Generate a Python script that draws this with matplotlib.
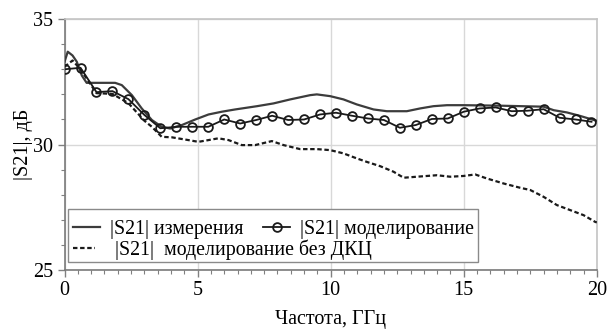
import matplotlib
matplotlib.use("Agg")
import matplotlib.pyplot as plt
from matplotlib.patches import Rectangle
from matplotlib.ticker import MultipleLocator

plt.rcParams['font.family'] = ['Liberation Serif', 'DejaVu Serif']

# |S21| measured
meas_f = [0.0, 0.12, 0.3, 0.46, 0.65, 0.83, 1.9, 2.15, 2.53, 2.9, 3.28, 3.65, 3.97,
          4.41, 4.91, 5.41, 5.91, 6.41, 7.23, 7.85, 8.48, 9.23, 9.48, 9.98, 10.48,
          10.98, 11.61, 12.11, 12.86, 13.36, 13.86, 14.37, 14.99, 16.37, 18.0,
          18.38, 18.88, 19.38, 19.82, 20.0]
meas_db = [33.3, 33.7, 33.55, 33.3, 32.75, 32.46, 32.46, 32.37, 31.97, 31.44, 30.98,
           30.71, 30.64, 30.78, 31.0, 31.2, 31.31, 31.4, 31.53, 31.64, 31.8, 31.97,
           32.0, 31.93, 31.8, 31.6, 31.4, 31.33, 31.33, 31.44, 31.53, 31.57, 31.57,
           31.55, 31.51, 31.37, 31.28, 31.14, 31.0, 30.95]

# |S21| simulation (markers)
sim_f = [0.0, 0.6, 1.2, 1.8, 2.4, 3.0, 3.6, 4.2, 4.8, 5.4, 6.0, 6.6, 7.2, 7.8, 8.4,
         9.0, 9.6, 10.2, 10.8, 11.4, 12.0, 12.6, 13.2, 13.8, 14.4, 15.0, 15.6,
         16.2, 16.8, 17.4, 18.0, 18.6, 19.2, 19.8]
sim_db = [33.0, 33.06, 32.09, 32.13, 31.81, 31.18, 30.65, 30.71, 30.71, 30.71, 31.0,
          30.84, 30.98, 31.15, 30.98, 31.0, 31.2, 31.27, 31.15, 31.04, 30.98, 30.67,
          30.78, 31.02, 31.04, 31.31, 31.44, 31.48, 31.33, 31.35, 31.41, 31.07,
          31.0, 30.91]

# |S21| simulation without DKC
nodkc_f = [0.0, 0.3, 0.6, 1.2, 1.8, 2.4, 3.0, 3.28, 3.65, 4.03, 4.65, 5.03, 5.41,
           5.78, 6.16, 6.66, 7.16, 7.79, 8.23, 8.85, 9.48, 9.98, 10.48, 10.98,
           11.36, 11.86, 12.36, 12.74, 13.24, 13.99, 14.49, 14.99, 15.43, 15.87,
           16.5, 17.12, 17.5, 18.0, 18.5, 19.0, 19.5, 19.94, 20.0]
nodkc_db = [33.1, 33.35, 33.0, 32.05, 32.02, 31.65, 30.95, 30.71, 30.31, 30.29,
            30.18, 30.11, 30.18, 30.25, 30.18, 29.98, 29.98, 30.14, 29.98, 29.82,
            29.82, 29.78, 29.65, 29.45, 29.31, 29.14, 28.92, 28.68, 28.72, 28.78,
            28.72, 28.75, 28.81, 28.65, 28.45, 28.28, 28.19, 27.92, 27.59, 27.39,
            27.19, 26.92, 26.9]

fig = plt.figure(figsize=(6.09, 3.29), dpi=100)
ax = fig.add_axes([0.106, 0.179, 0.874, 0.763])

l_meas, = ax.plot(meas_f, meas_db, color='#3c3c3c', lw=1.6, zorder=3)
l_nodkc, = ax.plot(nodkc_f, nodkc_db, color='#1a1a1a', lw=1.6, ls=(0, (2, 1.2)), zorder=3)
l_sim, = ax.plot(sim_f, sim_db, color='#1a1a1a', lw=1.3, marker='o', ms=6.3,
                 mfc='none', mec='#1a1a1a', mew=1.3, zorder=4)

ax.set_xlim(0, 20)
ax.set_ylim(25, 35)
ax.xaxis.set_major_locator(MultipleLocator(5))
ax.xaxis.set_minor_locator(MultipleLocator(0.5))
ax.yaxis.set_major_locator(MultipleLocator(5))
ax.yaxis.set_minor_locator(MultipleLocator(1))
ax.tick_params(which='major', direction='out', length=5, width=1, color='#808080',
               labelsize=14.5, pad=3)
ax.tick_params(which='minor', direction='out', length=3, width=0.8, color='#808080')
ax.grid(True, which='major', color='#d8d8d8', lw=1)
ax.set_axisbelow(True)
for s in ['left', 'bottom']:
    ax.spines[s].set_color('#7a7a7a')
    ax.spines[s].set_linewidth(1.2)
for s in ['top', 'right']:
    ax.spines[s].set_color('#c4c4c4')
    ax.spines[s].set_linewidth(1.2)

ax.set_xlabel('Частота, ГГц', fontsize=14.5, labelpad=7)
ax.set_ylabel('|S21|, дБ', fontsize=14.5, labelpad=0)

# legend frame + two rows
ax.add_patch(Rectangle((0.007, 0.032), 0.77, 0.212, transform=ax.transAxes,
                       facecolor='white', edgecolor='#8a8a8a', lw=1.0, zorder=5))
leg1 = ax.legend([l_meas, l_sim], ['|S21| измерения', '|S21| моделирование'],
                 ncol=2, frameon=False, fontsize=14.3, loc='center left',
                 bbox_to_anchor=(0.016, 0.163), handlelength=1.35, handletextpad=0.5,
                 columnspacing=1.0, borderaxespad=0, borderpad=0)
leg1.set_zorder(6)
ax.add_artist(leg1)
leg2 = ax.legend([l_nodkc], ['|S21|  моделирование без ДКЦ'], frameon=False,
                 fontsize=14.3, loc='center left', bbox_to_anchor=(0.016, 0.08),
                 handlelength=1.1, handletextpad=1.0, borderaxespad=0, borderpad=0)
leg2.set_zorder(6)

fig.savefig('out.png', dpi=100)
